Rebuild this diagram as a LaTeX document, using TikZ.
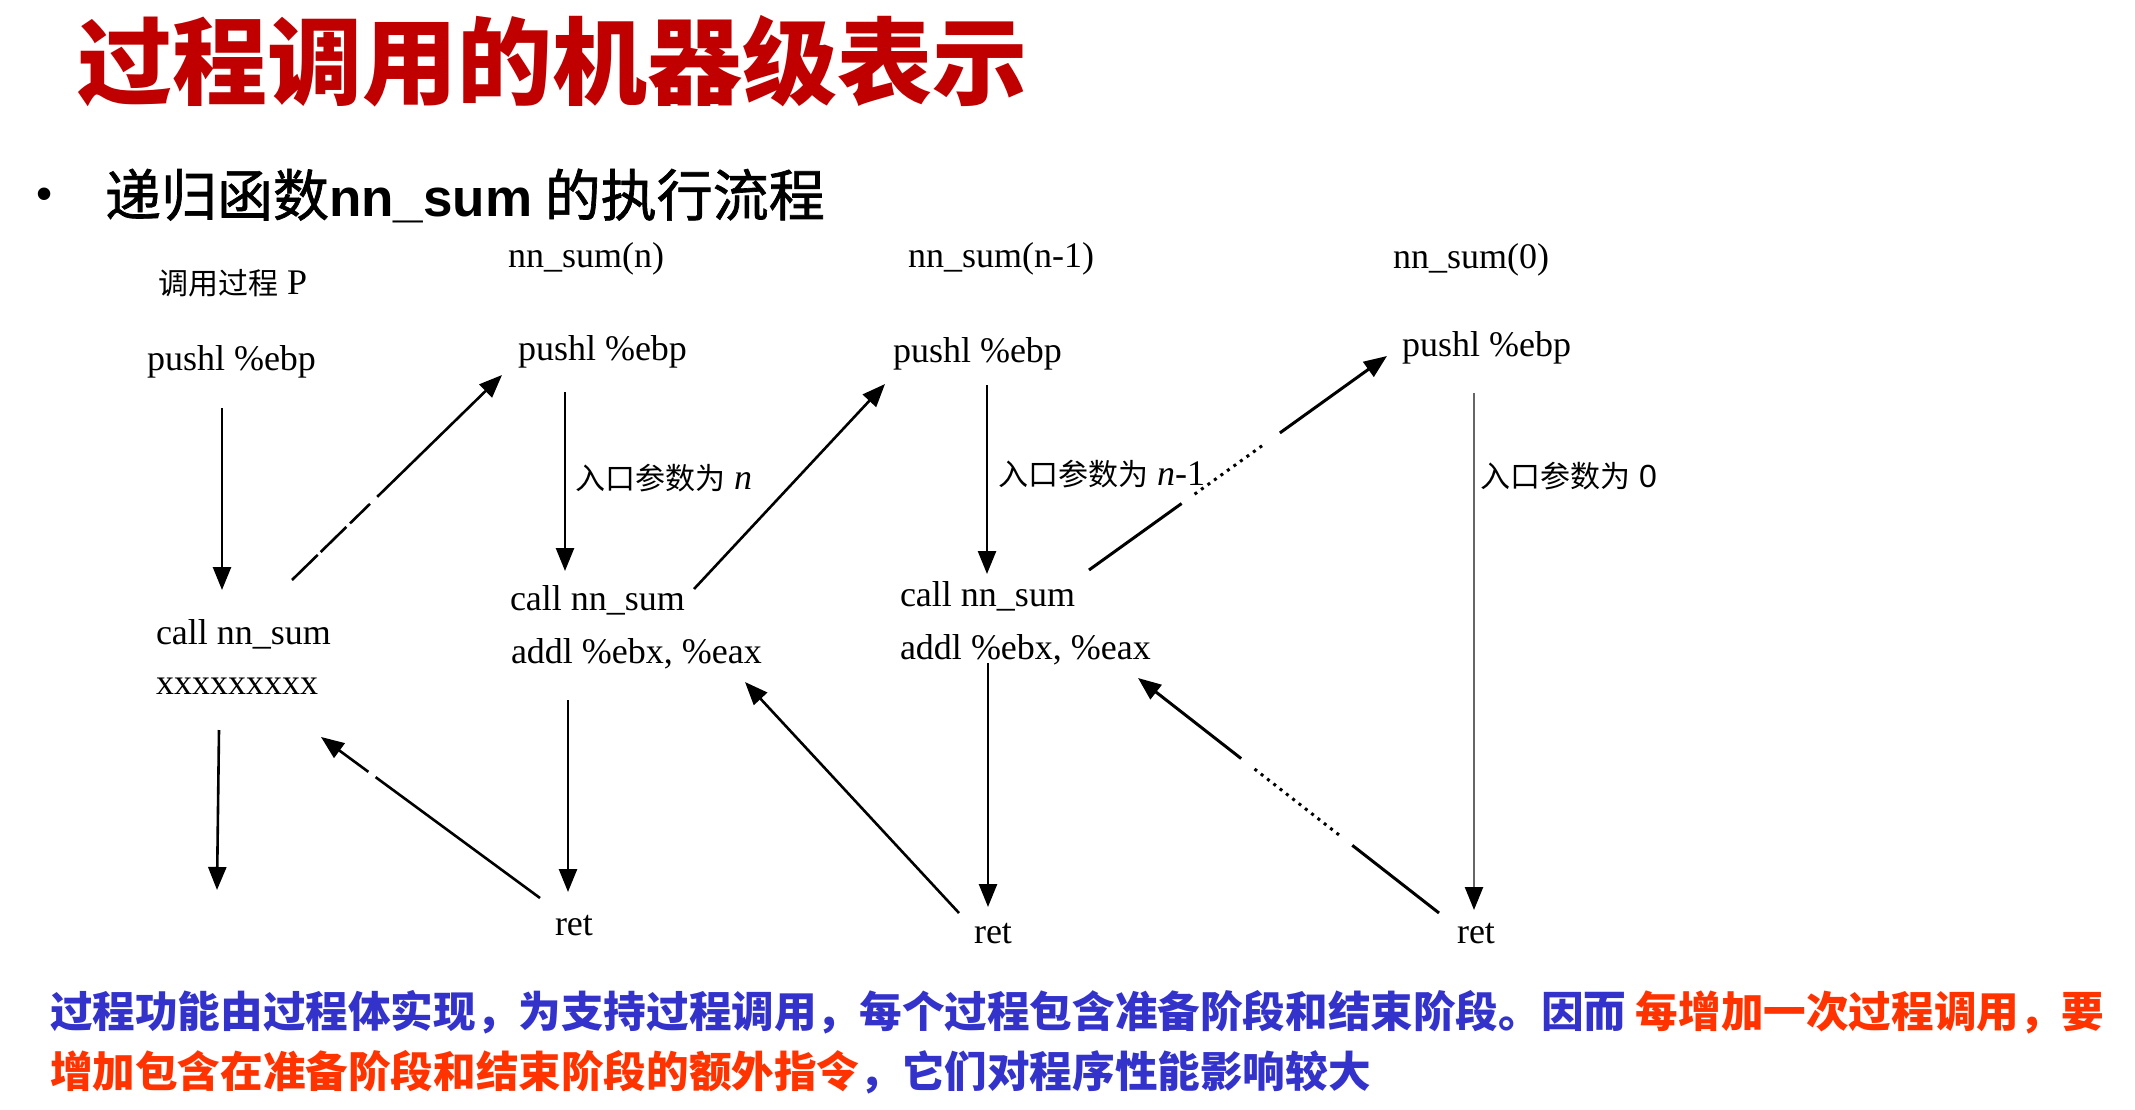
\documentclass[tikz,border=0pt]{standalone}
\usepackage{fontspec}
\setmainfont{Liberation Serif}
\newfontfamily\cjk{Noto Sans CJK SC}
\newfontfamily\cjkmid[FakeBold=1.2]{Noto Sans CJK SC}
\newfontfamily\sansfam{Liberation Sans}
\usetikzlibrary{arrows.meta}
\definecolor{titlered}{HTML}{C00000}
\definecolor{noteblue}{HTML}{3333CC}
\definecolor{notered}{HTML}{FF3300}
\newcommand\setfs[1]{\fontsize{#1pt}{#1pt}\selectfont}

\begin{document}
\begin{tikzpicture}[x=1pt,y=-1pt,
  lbl/.style={anchor=base west, inner sep=0pt, outer sep=0pt},
  code/.style={lbl, font=\setfs{36}},
  zhlbl/.style={lbl, font=\setfs{36}},
  flow/.style={line width=2.6pt, -{Triangle[width=18pt,length=23pt]}},
  grayflow/.style={line width=2.4pt, draw=black!60, -{Triangle[width=18pt,length=23pt,color=black,fill=black]}},
]
% canvas
\fill[white] (0,0) rectangle (2135,1110);
\useasboundingbox (0,0) rectangle (2135,1110);

% headings
\node[lbl, text=titlered, font=\cjk\bfseries\setfs{95}] (title) at (77,98) {过程调用的机器级表示};
\node[lbl, font=\sansfam\setfs{46}] (bullet) at (36,210) {•};
\node[lbl, font=\cjkmid\setfs{56}] (sub) at (105,216) {递归函数{\sansfam\bfseries\setfs{53}nn\_sum} 的执行流程};

% caller P
\node[code] (pname) at (158,294) {{\cjk\setfs{30}调用过程} P};
\node[code] (push1) at (147,370) {pushl \%ebp};
\node[code] (call1) at (156,644) {call nn\_sum};
\node[code] (xx1)   at (156,694) {xxxxxxxxx};

% nn_sum(n)
\node[code] (fn2)   at (508,267) {nn\_sum(n)};
\node[code] (push2) at (518,360) {pushl \%ebp};
\node[zhlbl] (arg2) at (575,489) {{\cjk\setfs{30}入口参数为} \textit{n}};
\node[code] (call2) at (510,610) {call nn\_sum};
\node[code] (add2)  at (511,663) {addl \%ebx, \%eax};
\node[code] (ret2)  at (555,935) {ret};

% nn_sum(n-1)
\node[code] (fn3)   at (908,267) {nn\_sum(n-1)};
\node[code] (push3) at (893,362) {pushl \%ebp};
\node[zhlbl] (arg3) at (998,485) {{\cjk\setfs{30}入口参数为} \textit{n}-1};
\node[code] (call3) at (900,606) {call nn\_sum};
\node[code] (add3)  at (900,659) {addl \%ebx, \%eax};
\node[code] (ret3)  at (974,943) {ret};

% nn_sum(0)
\node[code] (fn4)   at (1393,268) {nn\_sum(0)};
\node[code] (push4) at (1402,356) {pushl \%ebp};
\node[zhlbl] (arg4) at (1480,487) {{\cjk\setfs{30}入口参数为} {\sansfam\setfs{32}0}};
\node[code] (ret4)  at (1457,943) {ret};

% connector end points
\coordinate (d1a) at (222,408);  \coordinate (d1b) at (222,590);
\coordinate (e1a) at (219,730);  \coordinate (e1b) at (217,890);
\coordinate (d2a) at (565,392);  \coordinate (d2b) at (565,571);
\coordinate (e2a) at (568,700);  \coordinate (e2b) at (568,892);
\coordinate (d3a) at (987,385);  \coordinate (d3b) at (987,574);
\coordinate (e3a) at (988,663);  \coordinate (e3b) at (988,907);
\coordinate (d4a) at (1474,393); \coordinate (d4b) at (1474,910);
\coordinate (u1a) at (292,580);  \coordinate (u1b) at (502,375);
\coordinate (u2a) at (694,589);  \coordinate (u2b) at (885,384);
\coordinate (u3a) at (1089,570); \coordinate (u3b) at (1387,356);
\coordinate (r2a) at (540,898);  \coordinate (r2b) at (321,737);
\coordinate (r3a) at (959,913);  \coordinate (r3b) at (745,682);
\coordinate (r4a) at (1439,913); \coordinate (r4b) at (1138,678);

% straight-down flow inside each procedure
\draw[flow] (d1a) -- (d1b);
\draw[flow] (e1a) -- (e1b);
\draw[flow] (d2a) -- (d2b);
\draw[flow] (e2a) -- (e2b);
\draw[flow] (d3a) -- (d3b);
\draw[flow] (e3a) -- (e3b);
\draw[grayflow] (d4a) -- (d4b);

% calls
\draw[flow, dash pattern=on 36pt off 4pt on 36pt off 5pt on 28pt off 10pt on 400pt off 1pt] (u1a) -- (u1b);
\draw[flow] (u2a) -- (u2b);
\draw[flow, line width=3pt, dash pattern=on 114pt off 16pt on 3pt off 5pt on 3pt off 5pt on 3pt off 5pt on 3pt off 5pt on 3pt off 5pt on 3pt off 5pt on 3pt off 5pt on 3pt off 5pt on 3pt off 5pt on 3pt off 5pt on 3pt off 22pt on 500pt off 1pt] (u3a) -- (u3b);

% returns
\draw[flow, dash pattern=on 204pt off 9pt on 300pt off 1pt] (r2a) -- (r2b);
\draw[flow] (r3a) -- (r3b);
\draw[flow, line width=3pt, dash pattern=on 110pt off 17pt on 3pt off 5pt on 3pt off 5pt on 3pt off 5pt on 3pt off 5pt on 3pt off 5pt on 3pt off 5pt on 3pt off 5pt on 3pt off 5pt on 3pt off 5pt on 3pt off 5pt on 3pt off 5pt on 3pt off 5pt on 3pt off 5pt on 3pt off 17pt on 500pt off 1pt] (r4a) -- (r4b);

% closing note
\node[lbl, text=noteblue, font=\cjk\bfseries\setfs{42.6}] (note1) at (50,1027)
  {过程功能由过程体实现，为支持过程调用，每个过程包含准备阶段和结束阶段。因而 \textcolor{notered}{每增加一次过程调用，要}};
\node[lbl, text=noteblue, font=\cjk\bfseries\setfs{42.6}] (note2) at (50,1087)
  {\textcolor{notered}{增加包含在准备阶段和结束阶段的额外指令}，它们对程序性能影响较大};
\end{tikzpicture}
\end{document}
